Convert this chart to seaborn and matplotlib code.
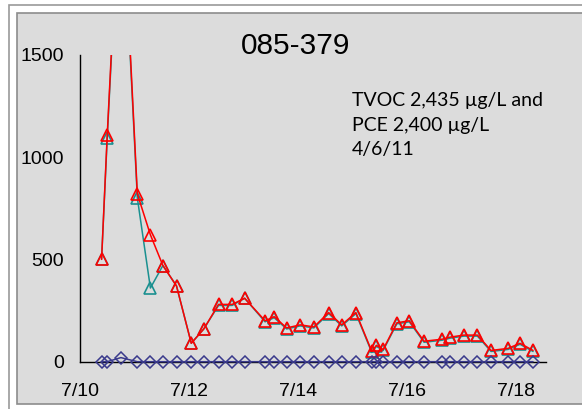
import pandas as pd
import matplotlib
matplotlib.use("Agg")
import matplotlib.pyplot as plt
from matplotlib.patches import Rectangle
import seaborn as sns

# sample times (July 2011)
times = ["2011-07-10 09:30", "2011-07-10 12:00", "2011-07-10 18:00", "2011-07-11 01:15",
         "2011-07-11 07:00", "2011-07-11 12:30", "2011-07-11 18:30", "2011-07-12 01:00",
         "2011-07-12 06:30", "2011-07-12 13:00", "2011-07-12 19:00", "2011-07-13 00:30",
         "2011-07-13 09:30", "2011-07-13 13:30", "2011-07-13 19:00", "2011-07-14 01:00",
         "2011-07-14 07:00", "2011-07-14 13:30", "2011-07-14 19:15", "2011-07-15 01:30",
         "2011-07-15 08:30", "2011-07-15 10:30", "2011-07-15 13:30", "2011-07-15 19:30",
         "2011-07-16 01:00", "2011-07-16 07:30", "2011-07-16 15:30", "2011-07-16 19:00",
         "2011-07-17 01:00", "2011-07-17 07:00", "2011-07-17 13:00", "2011-07-17 20:30",
         "2011-07-18 01:45", "2011-07-18 07:30"]

tvoc = [500, 1110, 2435, 820, 620, 470, 370, 90, 160, 280, 280, 310, 200, 220, 165, 180, 170,
        240, 180, 240, 50, 80, 60, 190, 200, 100, 110, 120, 130, 130, 55, 65, 90, 55]
pce = [500, 1095, 2400, 800, 360, 470, 370, 90, 160, 275, 275, 310, 195, 215, 160, 175, 165,
       235, 175, 235, 45, 75, 55, 185, 195, 95, 105, 115, 125, 125, 50, 60, 85, 50]
other = [0, 0, 20, 0, 0, 0, 0, 0, 0, 0, 0, 0, 0, 0, 0, 0, 0,
         0, 0, 0, 0, 0, 0, 0, 0, 0, 0, 0, 0, 0, 0, 0, 0, 0]

tick_dates = ["2011-07-10", "2011-07-12", "2011-07-14", "2011-07-16", "2011-07-18"]
tick_labels = ["7/10", "7/12", "7/14", "7/16", "7/18"]
y_ticks = [0, 500, 1000, 1500]

note_lines = ["TVOC 2,435 µg/L and", "PCE 2,400 µg/L", "4/6/11"]

df = pd.DataFrame({"time": pd.to_datetime(times), "TVOC": tvoc, "PCE": pce, "other": other})

sns.set_style("white")
plt.rcParams['font.family'] = ['Liberation Sans', 'DejaVu Sans']

fig = plt.figure(figsize=(5.82, 4.09), dpi=100)
fig.patch.set_facecolor("white")
# framed grey panel behind the chart
fig.patches.append(Rectangle((9 / 582, -0.05), 1.1, (409 - 5) / 409 + 0.05,
                             transform=fig.transFigure, facecolor="white",
                             edgecolor="#9a9a9a", linewidth=1.2, zorder=-20))
fig.patches.append(Rectangle((17 / 582, (409 - 404) / 409), 1.1, (404 - 13) / 409,
                             transform=fig.transFigure, facecolor="#dcdcdc",
                             edgecolor="#8c8c8c", linewidth=1.2, zorder=-10))

ax = fig.add_axes([80 / 582, (409 - 361.7) / 409, 466 / 582, 307 / 409])
ax.set_facecolor("none")

sns.lineplot(data=df, x="time", y="PCE", ax=ax, color="#1a9090", linewidth=1.1,
             marker="^", markersize=8, mfc="none", mec="#1a9090", mew=1.2)
sns.lineplot(data=df, x="time", y="TVOC", ax=ax, color="#ff0000", linewidth=1.1,
             marker="^", markersize=8, mfc="none", mec="#ff0000", mew=1.2)
sns.lineplot(data=df, x="time", y="other", ax=ax, color="#3a3a8c", linewidth=1.1,
             marker="D", markersize=6, mfc="none", mec="#3a3a8c", mew=1.1, zorder=5,
             clip_on=False)

ax.set_ylim(0, 1500)
ax.set_xlim(pd.Timestamp("2011-07-10"), pd.Timestamp("2011-07-10") + pd.Timedelta(days=8.55))
ax.set_yticks(y_ticks)
ax.set_xticks(pd.to_datetime(tick_dates))
ax.set_xticklabels(tick_labels)
ax.set_xlabel("")
ax.set_ylabel("")

for side in ["top", "right"]:
    ax.spines[side].set_visible(False)
for side in ["left", "bottom"]:
    ax.spines[side].set_color("black")
    ax.spines[side].set_linewidth(1.0)
ax.tick_params(axis="both", direction="inout", length=7, width=1, color="black",
               labelsize=14, labelcolor="black")
ax.tick_params(axis="y", pad=8)
ax.tick_params(axis="x", pad=12)

fig.text(295.5 / 582, (409 - 54.3) / 409, "085-379", ha="center", va="baseline",
         fontsize=21.5, color="black")
for i, line in enumerate(note_lines):
    fig.text(351.5 / 582, (409 - 106 - 24.5 * i) / 409, line, ha="left", va="baseline",
             fontsize=14, color="black", family=["Lato", "DejaVu Sans"])

fig.savefig("out.png", dpi=100)
